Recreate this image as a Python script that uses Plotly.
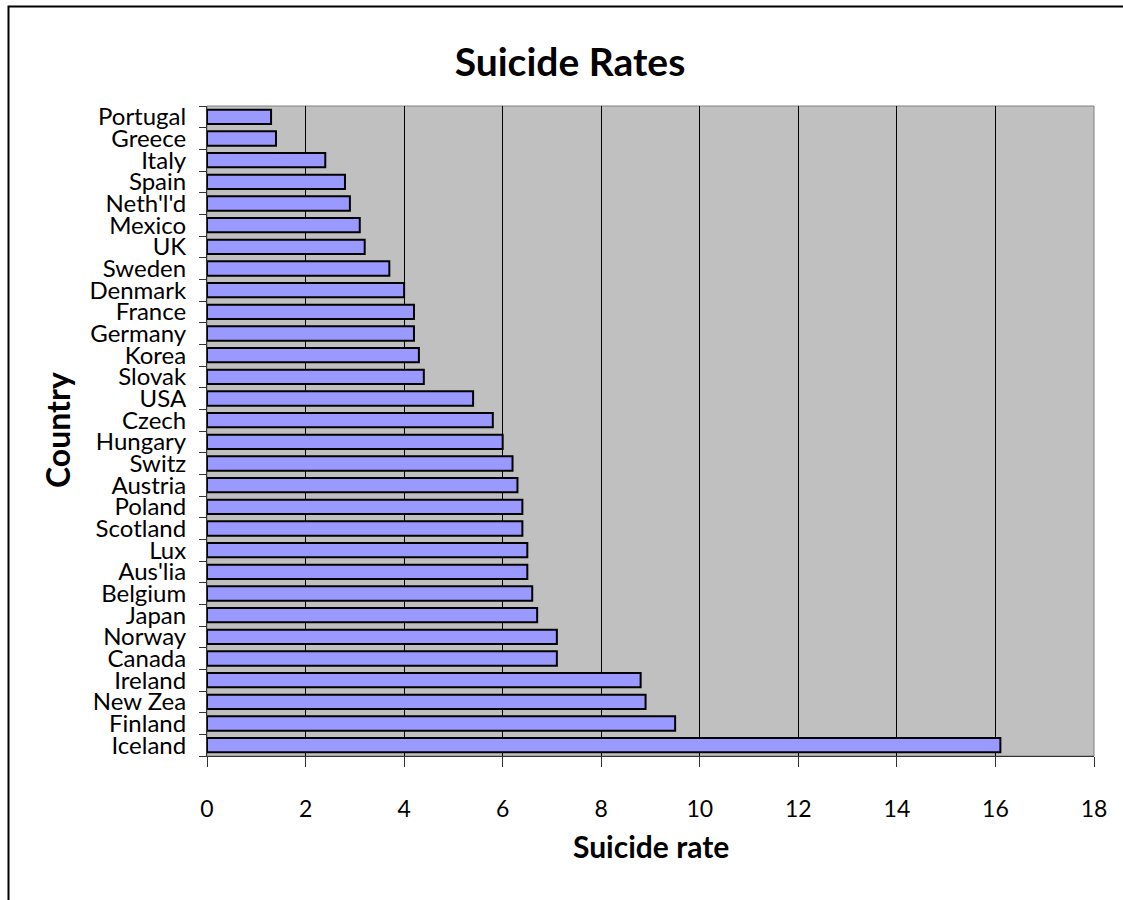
import plotly.graph_objects as go

# Countries listed top to bottom as they appear on the chart
countries = [
    "Portugal", "Greece", "Italy", "Spain", "Neth'l'd", "Mexico", "UK",
    "Sweden", "Denmark", "France", "Germany", "Korea", "Slovak", "USA",
    "Czech", "Hungary", "Switz", "Austria", "Poland", "Scotland", "Lux",
    "Aus'lia", "Belgium", "Japan", "Norway", "Canada", "Ireland",
    "New Zea", "Finland", "Iceland",
]
suicide_rate = [
    1.3, 1.4, 2.4, 2.8, 2.9, 3.1, 3.2,
    3.7, 4.0, 4.2, 4.2, 4.3, 4.4, 5.4,
    5.8, 6.0, 6.2, 6.3, 6.4, 6.4, 6.5,
    6.5, 6.6, 6.7, 7.1, 7.1, 8.8,
    8.9, 9.5, 16.1,
]
x_ticks = list(range(0, 20, 2))

FONT = "Lato"

fig = go.Figure(
    go.Bar(
        x=suicide_rate,
        y=countries,
        orientation="h",
        marker=dict(color="#9999FF", line=dict(color="#000000", width=2)),
        hoverinfo="x+y",
    )
)

fig.update_layout(
    width=1123,
    height=900,
    margin=dict(l=207, r=29, t=106, b=144),
    paper_bgcolor="#FFFFFF",
    plot_bgcolor="#C0C0C0",
    bargap=0.34,
    showlegend=False,
    font=dict(family=FONT, color="#000000"),
    title=dict(
        text="<b>Suicide Rates</b>",
        font=dict(family=FONT, size=39, color="#000000"),
        x=(570 - 207) / 887,
        xref="paper",
        xanchor="center",
        y=1 - 62 / 900,
        yref="container",
        yanchor="middle",
    ),
)

fig.update_xaxes(
    range=[0, 18],
    tickmode="array",
    tickvals=x_ticks,
    ticktext=[str(v) for v in x_ticks],
    showgrid=True,
    gridcolor="#000000",
    gridwidth=1,
    zeroline=False,
    showline=True,
    linecolor="#333333",
    linewidth=1,
    ticks="outside",
    ticklen=10,
    tickcolor="#333333",
    tickfont=dict(family=FONT, size=23),
    ticklabelstandoff=22,
    fixedrange=True,
)

fig.update_yaxes(
    autorange="reversed",
    type="category",
    tickmode="array",
    tickvals=countries,
    ticktext=countries,
    tickson="boundaries",
    ticks="outside",
    ticklen=7,
    tickcolor="#333333",
    showgrid=False,
    showline=True,
    linecolor="#333333",
    linewidth=1,
    tickfont=dict(family=FONT, size=24),
    ticklabelstandoff=15,
    fixedrange=True,
)

# Axis titles
fig.add_annotation(
    text="<b>Suicide rate</b>",
    xref="paper", yref="paper",
    x=(651 - 207) / 887, y=(756 - 846) / 650,
    showarrow=False,
    font=dict(family=FONT, size=30),
    xanchor="center", yanchor="middle",
)
fig.add_annotation(
    text="<b>Country</b>",
    xref="paper", yref="paper",
    x=(57 - 207) / 887, y=(756 - 430) / 650,
    showarrow=False,
    textangle=-90,
    font=dict(family=FONT, size=32),
    xanchor="center", yanchor="middle",
)

# Plot-area frame (top and right edges in grey)
fig.add_shape(
    type="rect", xref="paper", yref="paper",
    x0=0, x1=1, y0=0, y1=1,
    line=dict(color="#808080", width=1),
    layer="below",
)

# Chart-area border
fig.add_shape(
    type="rect", xref="paper", yref="paper",
    x0=(8.5 - 207) / 887, x1=(1140 - 207) / 887,
    y0=(756 - 920) / 650, y1=(756 - 6.5) / 650,
    line=dict(color="#000000", width=2),
)

fig.write_html("out.html")
